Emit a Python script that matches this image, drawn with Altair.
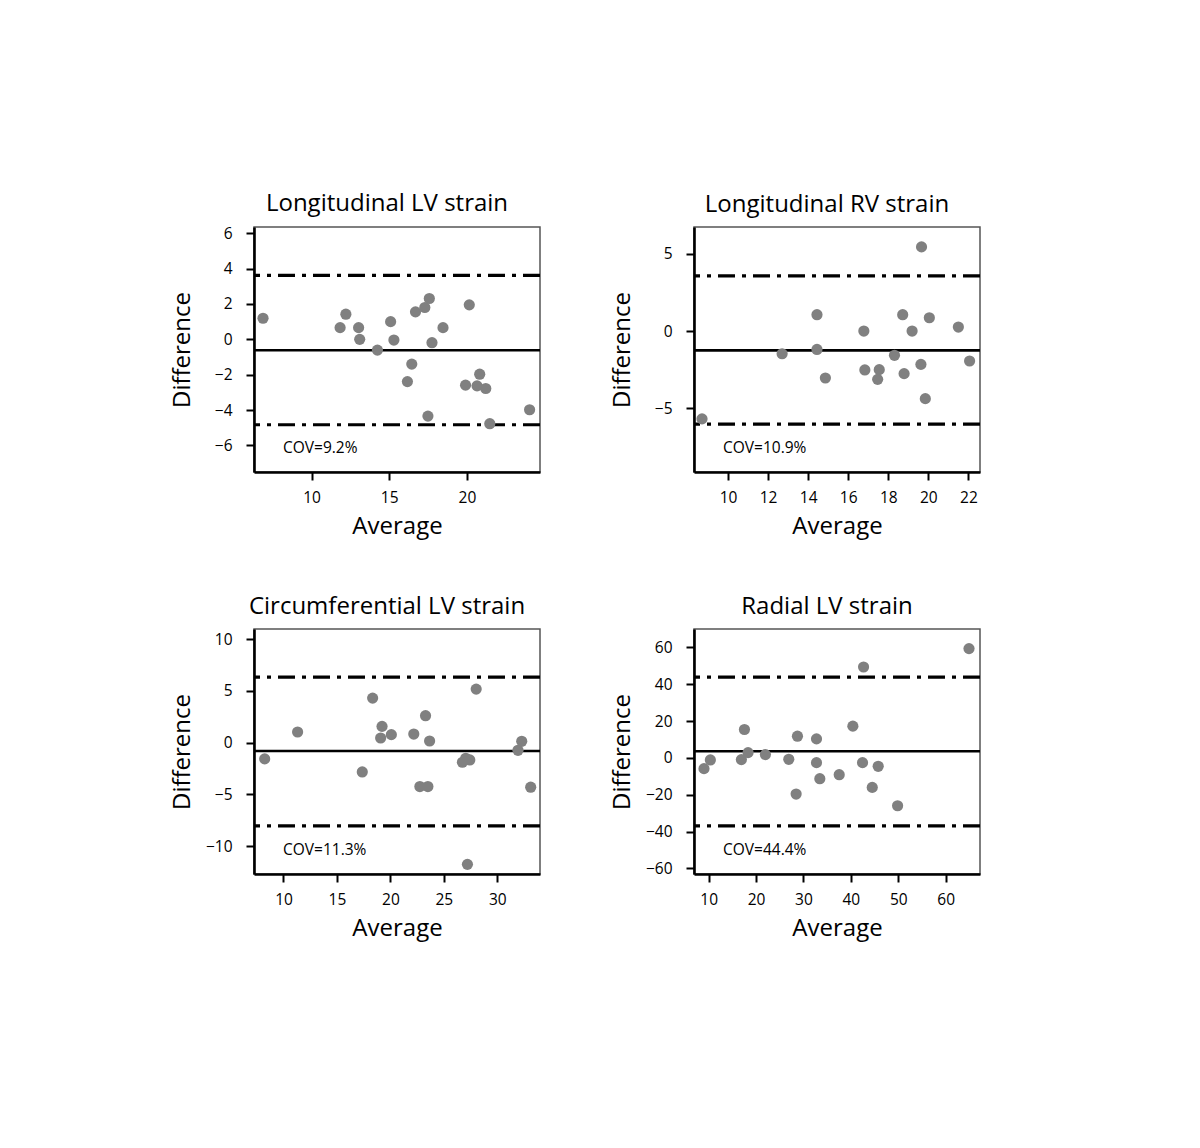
import altair as alt
import pandas as pd

FONT = "Open Sans"

# ---------------- data ----------------
titles = ["Longitudinal LV strain", "Longitudinal RV strain",
          "Circumferential LV strain", "Radial LV strain"]
cov_labels = ["COV=9.2%", "COV=10.9%", "COV=11.3%", "COV=44.4%"]

lvl_avg = [6.88, 11.84, 12.21, 13.03, 13.10, 14.24, 15.09, 15.30, 16.17, 16.45,
           16.69, 17.29, 17.58, 17.49, 17.75, 18.46, 19.91, 20.15, 20.65, 20.82,
           21.21, 21.47, 24.03]
lvl_diff = [1.19, 0.66, 1.42, 0.66, 0.0, -0.61, 1.0, -0.04, -2.39, -1.40,
            1.55, 1.80, 2.31, -4.34, -0.19, 0.66, -2.59, 1.95, -2.63, -1.97,
            -2.78, -4.77, -3.98]

rvl_avg = [8.70, 12.70, 14.44, 14.44, 14.86, 16.78, 16.83, 17.47, 17.55, 18.31,
           18.72, 18.79, 19.19, 19.63, 19.66, 19.85, 20.05, 21.50, 22.06]
rvl_diff = [-5.69, -1.47, 1.06, -1.19, -3.04, 0.0, -2.52, -3.13, -2.50, -1.57,
            1.06, -2.76, 0.0, -2.16, 5.45, -4.38, 0.86, 0.26, -1.94]

circ_avg = [8.24, 11.32, 17.37, 18.34, 19.22, 19.09, 20.09, 22.19, 22.76, 23.29,
            23.51, 23.67, 26.74, 27.05, 27.43, 27.21, 28.03, 31.94, 32.29, 33.13]
circ_diff = [-1.57, 1.03, -2.83, 4.30, 1.57, 0.45, 0.77, 0.83, -4.24, 2.60,
             -4.24, 0.16, -1.89, -1.51, -1.67, -11.75, 5.17, -0.74, 0.13, -4.30]

rad_avg = [9.01, 10.35, 16.90, 17.54, 18.31, 21.97, 26.90, 28.45, 28.73, 32.75,
           32.75, 33.45, 37.54, 40.42, 42.46, 42.68, 44.51, 45.77, 49.86, 64.93]
rad_diff = [-5.81, -1.09, -0.91, 15.43, 2.90, 1.82, -0.73, -19.61, 11.80, 10.35,
            -2.54, -11.26, -9.08, 17.25, -2.54, 49.38, -15.98, -4.54, -25.96, 59.37]

avgs = [lvl_avg, rvl_avg, circ_avg, rad_avg]
diffs = [lvl_diff, rvl_diff, circ_diff, rad_diff]

mean_bias = [-0.62, -1.25, -0.80, 3.6]
upper_loa = [3.62, 3.58, 6.32, 43.9]
lower_loa = [-4.83, -6.03, -8.03, -36.9]

x_domains = [[6.3, 24.7], [8.3, 22.58], [7.24, 34.0], [6.9, 67.25]]
y_domains = [[-7.5, 6.35], [-9.13, 6.74], [-12.68, 10.97], [-63.0, 70.0]]
x_ticks = [[10, 15, 20], [10, 12, 14, 16, 18, 20, 22], [10, 15, 20, 25, 30],
           [10, 20, 30, 40, 50, 60]]
y_ticks = [[-6, -4, -2, 0, 2, 4, 6], [-5, 0, 5], [-10, -5, 0, 5, 10],
           [-60, -40, -20, 0, 20, 40, 60]]

W, H = 286, 245


def panel(i):
    df = pd.DataFrame({"avg": avgs[i], "diff": diffs[i]})
    xenc = alt.X("avg:Q",
                 scale=alt.Scale(domain=x_domains[i], nice=False, zero=False),
                 axis=alt.Axis(values=x_ticks[i], title="Average", titleY=42))
    yenc = alt.Y("diff:Q",
                 scale=alt.Scale(domain=y_domains[i], nice=False, zero=False),
                 axis=alt.Axis(values=y_ticks[i], title="Difference", titleX=-60))
    mean_rule = alt.Chart(pd.DataFrame({"diff": [mean_bias[i]]})).mark_rule(
        color="black", strokeWidth=2.6).encode(y=yenc)
    loa_rule = alt.Chart(pd.DataFrame({"diff": [upper_loa[i], lower_loa[i]]})).mark_rule(
        color="black", strokeWidth=3.2, strokeDash=[17, 7, 4, 7]).encode(y=yenc)
    pts = alt.Chart(df).mark_circle(size=125, color="#808080", opacity=1).encode(
        x=xenc, y=yenc)
    txt = alt.Chart(pd.DataFrame({"t": [cov_labels[i]]})).mark_text(
        align="left", baseline="middle", font=FONT, fontSize=15.5, color="black"
    ).encode(x=alt.value(29), y=alt.value(221), text="t:N")
    return alt.layer(mean_rule, loa_rule, pts, txt).properties(
        width=W, height=H,
        title=alt.TitleParams(titles[i], font=FONT, fontSize=24, fontWeight="normal",
                              color="black", dx=-10, offset=10))


chart = alt.concat(panel(0), panel(1), panel(2), panel(3), columns=2,
                   spacing={"row": 157, "column": 154}, bounds="flush").properties(
    padding={"left": 161, "top": 183, "right": 5, "bottom": 5}
).configure_view(
    stroke="#555555", strokeWidth=1.5
).configure_axis(
    grid=False, domainColor="black", domainWidth=2.6, tickColor="black",
    tickWidth=2, tickSize=8, labelFont=FONT, labelFontSize=15.5, labelColor="black",
    titleFont=FONT, titleFontSize=24, titleFontWeight="normal", titleColor="black"
).configure_axisX(labelPadding=10).configure_axisY(labelPadding=14)

chart.save("out.html", embed_options={"renderer": "svg", "actions": False})
